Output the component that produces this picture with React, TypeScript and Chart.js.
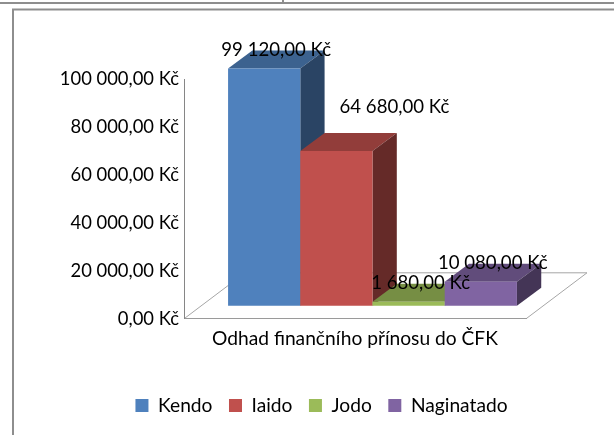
import React, { useEffect, useRef } from "react";
import { Chart, registerables } from "chart.js";

Chart.register(...registerables);

const categories = ["Odhad finančního přínosu do ČFK"];
const seriesNames = ["Kendo", "Iaido", "Jodo", "Naginatado"];
const kendo = [99120];
const iaido = [64680];
const jodo = [1680];
const naginatado = [10080];
const seriesValues = [kendo, iaido, jodo, naginatado];
const yTicks = [0, 20000, 40000, 60000, 80000, 100000];

const frontColors = ["#4F81BD", "#C0504D", "#9BBB59", "#8064A2"];
const topColors = ["#3C628F", "#923D3A", "#768E44", "#614C7B"];
const sideColors = ["#2A4464", "#652A28", "#52632F", "#443556"];

const FONT = "Lato";
const TICK_SIZE = 18.4;
const VALUE_SIZE = 18.6;
const TEXT_SIZE = 19.2;
const BAR_SHIFT = { x: 17.5, y: -13 };
const BAR_DEPTH = { x: 24.3, y: -18 };
const FLOOR_DEPTH = { x: 61, y: -46 };
const LABEL_OFFSET = { x: 12, y: -18.5 };
const LABEL_EXTRA = [{ x: 0, y: 0 }, { x: 46, y: -25.5 }, { x: 0, y: 0 }, { x: 0, y: 0 }];

const money = (v: number) => {
  const whole = String(Math.trunc(v)).replace(/\B(?=(\d{3})+(?!\d))/g, " ");
  return `${whole},00 Kč`;
};

const frame3d = {
  id: "frame3d",
  beforeDraw(chart: any) {
    const { ctx, width, height, chartArea: a } = chart;
    ctx.save();
    ctx.strokeStyle = "#8E8E8E";
    ctx.lineWidth = 2;
    ctx.beginPath();
    ctx.moveTo(0, 3);
    ctx.lineTo(width, 3);
    ctx.moveTo(width, 9.5);
    ctx.lineTo(13, 9.5);
    ctx.lineTo(13, height);
    ctx.moveTo(283, 0);
    ctx.lineTo(283, 3);
    ctx.stroke();
    ctx.strokeStyle = "#A6A6A6";
    ctx.lineWidth = 1;
    ctx.beginPath();
    ctx.moveTo(a.left, a.bottom);
    ctx.lineTo(a.left + FLOOR_DEPTH.x, a.bottom + FLOOR_DEPTH.y);
    ctx.lineTo(a.right + FLOOR_DEPTH.x, a.bottom + FLOOR_DEPTH.y);
    ctx.lineTo(a.right, a.bottom);
    ctx.stroke();
    ctx.restore();
  },
  // The default draw order runs last dataset first; the cuboids need first dataset first.
  beforeDatasetDraw() {
    return false;
  },
  afterDatasetsDraw(chart: any) {
    const { ctx } = chart;
    ctx.save();
    ctx.translate(BAR_SHIFT.x, BAR_SHIFT.y);
    chart.data.datasets.forEach((_: any, i: number) => {
      const meta = chart.getDatasetMeta(i);
      meta.data.forEach((bar: any) => {
        const p = bar.getProps(["x", "y", "base", "width"], true);
        const l = p.x - p.width / 2;
        const r = p.x + p.width / 2;
        ctx.fillStyle = topColors[i];
        ctx.beginPath();
        ctx.moveTo(l, p.y);
        ctx.lineTo(l + BAR_DEPTH.x, p.y + BAR_DEPTH.y);
        ctx.lineTo(r + BAR_DEPTH.x, p.y + BAR_DEPTH.y);
        ctx.lineTo(r, p.y);
        ctx.closePath();
        ctx.fill();
        ctx.fillStyle = sideColors[i];
        ctx.beginPath();
        ctx.moveTo(r, p.y);
        ctx.lineTo(r + BAR_DEPTH.x, p.y + BAR_DEPTH.y);
        ctx.lineTo(r + BAR_DEPTH.x, p.base + BAR_DEPTH.y);
        ctx.lineTo(r, p.base);
        ctx.closePath();
        ctx.fill();
      });
      meta.controller.draw();
    });
    ctx.restore();

    ctx.save();
    ctx.fillStyle = "#000";
    ctx.font = `${VALUE_SIZE}px ${FONT}`;
    ctx.textAlign = "center";
    ctx.textBaseline = "middle";
    chart.data.datasets.forEach((ds: any, i: number) => {
      const bar = chart.getDatasetMeta(i).data[0];
      const p = bar.getProps(["x", "y"], true);
      ctx.fillText(
        money(ds.data[0]),
        p.x + BAR_SHIFT.x + LABEL_OFFSET.x + LABEL_EXTRA[i].x,
        p.y + BAR_SHIFT.y + LABEL_OFFSET.y + LABEL_EXTRA[i].y
      );
    });
    ctx.restore();
  },
};

export default function App() {
  const ref = useRef<HTMLCanvasElement>(null);
  useEffect(() => {
    const tickFont = { family: FONT, size: TICK_SIZE };
    const textFont = { family: FONT, size: TEXT_SIZE };
    const chart = new Chart(ref.current as HTMLCanvasElement, {
      type: "bar",
      data: {
        labels: categories,
        datasets: seriesNames.map((name, i) => ({
          label: name,
          data: seriesValues[i],
          backgroundColor: frontColors[i],
          borderWidth: 0,
          clip: false as any,
          barPercentage: 1,
          categoryPercentage: 0.8446,
        })),
      },
      options: {
        responsive: false,
        animation: false,
        layout: { padding: { top: 79.5, left: 29, right: 0, bottom: 10 } },
        plugins: {
          tooltip: { enabled: false },
          title: { display: false },
          legend: {
            position: "bottom",
            labels: {
              font: textFont,
              color: "#000",
              boxWidth: 13,
              boxHeight: 13,
              padding: 16.5,
            },
          },
        },
        scales: {
          x: {
            grid: { display: false },
            border: { color: "#9A9A9A", width: 1 },
            ticks: { font: textFont, color: "#000", padding: 0 },
            afterFit: (s: any) => {
              s.height = 60.5;
            },
          },
          y: {
            min: 0,
            max: 100000,
            afterBuildTicks: (s: any) => {
              s.ticks = yTicks.map((value) => ({ value }));
            },
            grid: { display: false, drawTicks: false },
            border: { color: "#868686", width: 1 },
            ticks: {
              font: tickFont,
              color: "#000",
              padding: 5,
              callback: (v: any) => money(Number(v)),
            },
            afterFit: (s: any) => {
              s.width = 155;
            },
          },
          spacer: {
            position: "right",
            display: true,
            grid: { display: false, drawTicks: false },
            border: { display: false },
            ticks: { display: false },
            afterFit: (s: any) => {
              s.width = 88;
            },
          },
        },
      },
      plugins: [frame3d],
    } as any);
    return () => chart.destroy();
  }, []);
  return (
    <div style={{ position: "fixed", left: 0, top: 0, width: 614, height: 435, background: "#fff" }}>
      <canvas ref={ref} width={614} height={435} style={{ display: "block" }} />
    </div>
  );
}
